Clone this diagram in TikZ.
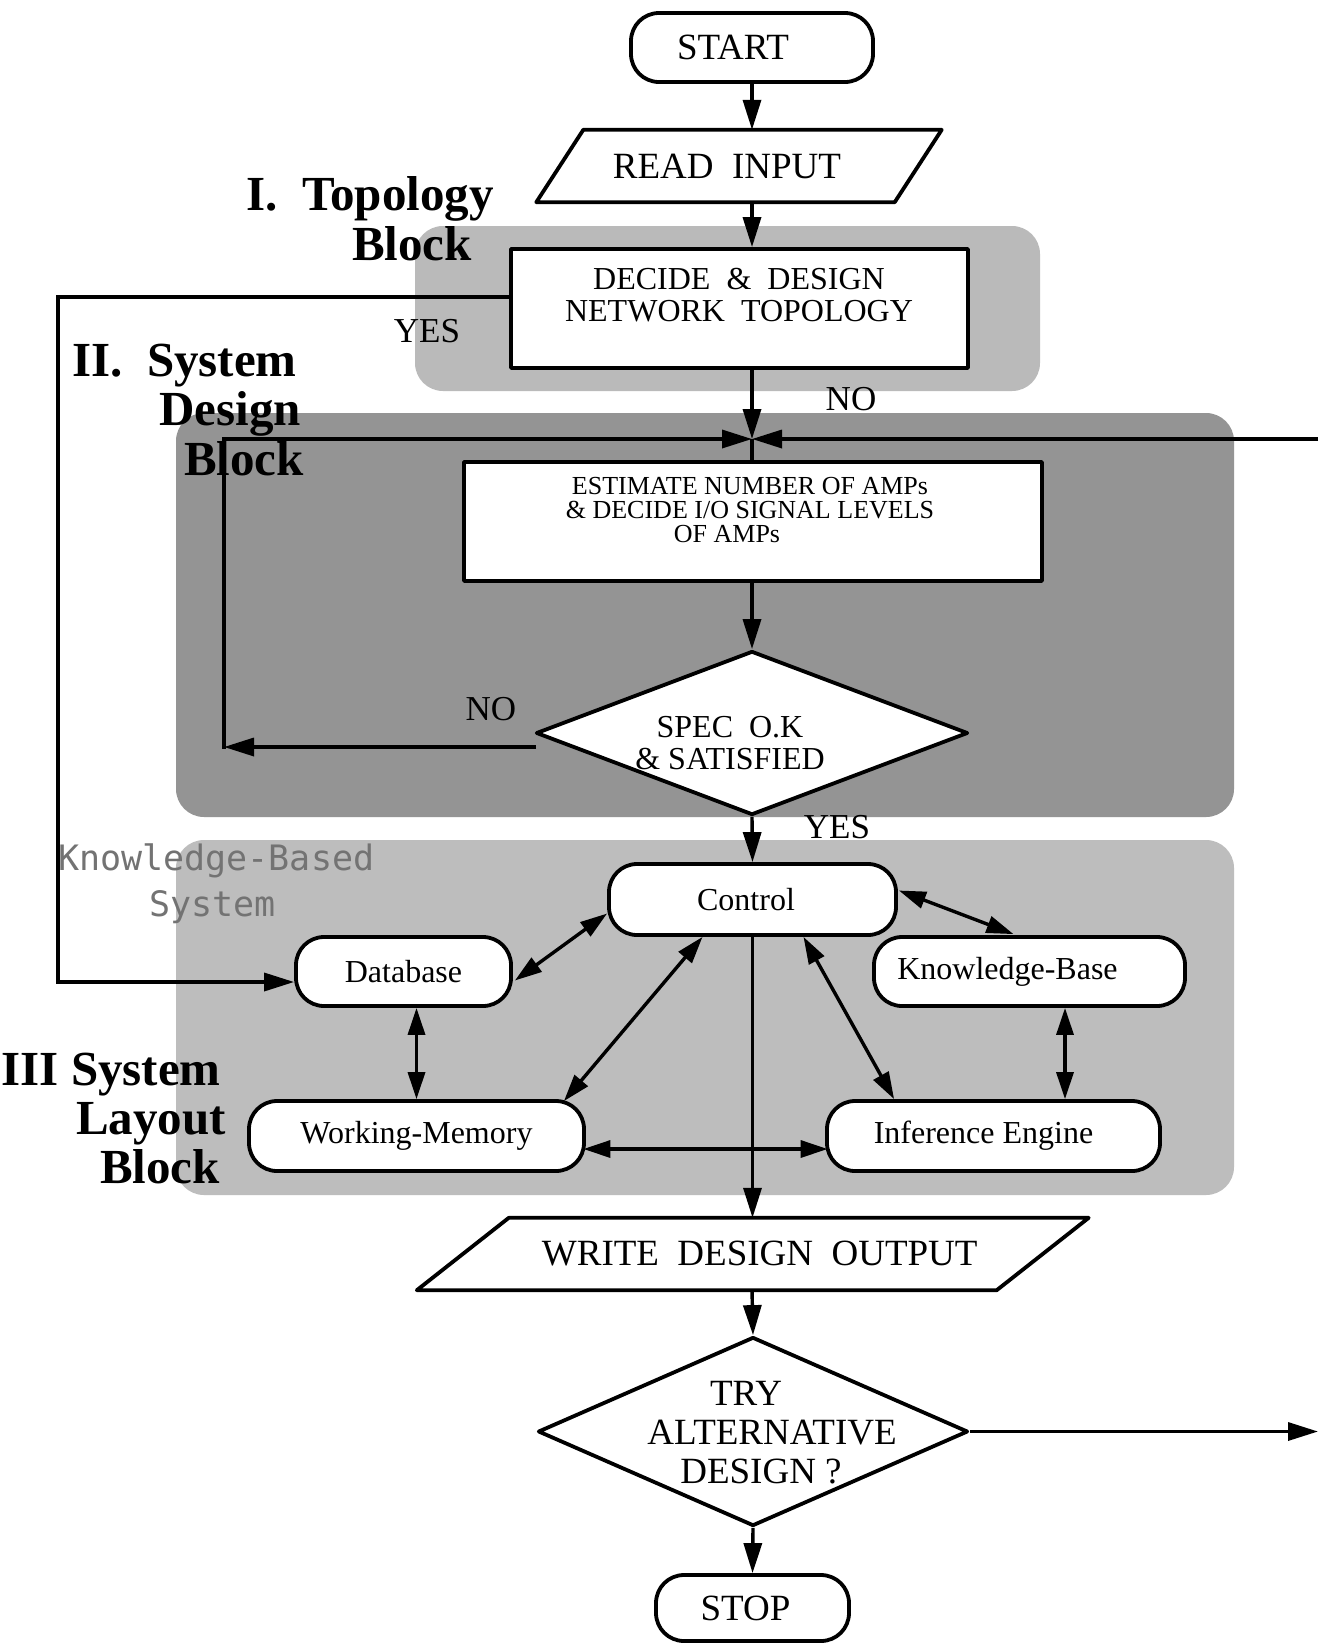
\documentclass[tikz,border=0pt]{standalone}
\usepackage{fontspec}
\setmainfont{Liberation Serif}
\newfontfamily\pixelfont{DejaVu Sans Mono}
\usetikzlibrary{arrows.meta,calc,shapes.geometric}
\newcommand\sizeL{\fontsize{37}{39}\selectfont}
\newcommand\sizeM{\fontsize{32}{32}\selectfont}
\newcommand\sizeS{\fontsize{26}{24}\selectfont}
\newcommand\sizeH{\bfseries\fontsize{49}{49}\selectfont}

\begin{document}
\begin{tikzpicture}[x=1pt,y=-1pt,
  conn/.style={line width=3.4pt},
  arr/.style={conn,-{Triangle[length=30pt,width=18pt]}},
  dbl/.style={conn,{Triangle[length=27pt,width=17pt]}-{Triangle[length=27pt,width=17pt]}},
  outline/.style={draw,line width=3.8pt,line join=round},
  boxnode/.style={outline,fill=white,inner sep=0pt},
  pill/.style={boxnode,rounded corners=28pt},
  txt/.style={inner sep=0pt,align=center},
  tag/.style={inner sep=0pt,font=\fontsize{35}{35}\selectfont},
  head/.style={inner sep=0pt,anchor=base east,font=\sizeH},
  region/.style={rounded corners=28pt},
  pixlabel/.style={inner sep=0pt,anchor=base west,text=black!55,font=\pixelfont\fontsize{35}{35}\selectfont},
]
\useasboundingbox (0,0) rectangle (1318,1647);
\fill[white] (0,0) rectangle (1318,1647);

% shaded blocks
\fill[black!27,region] (415,226) rectangle (1040,391);   % topology block
\fill[black!42,region] (176,413) rectangle (1234,817);   % system design block
\fill[black!26,region] (176,840) rectangle (1234,1195);  % system layout block

% block headings
\node[head] (h1a) at (494,210) {I.\ \ Topology};
\node[head] (h1b) at (472,260) {Block};
\node[head] (h2a) at (297,376) {II.\ \ System};
\node[head] (h2b) at (301,425) {Design};
\node[head] (h2c) at (304,475) {Block};
\node[head] (h3a) at (221,1085) {III System};
\node[head] (h3b) at (226,1134) {Layout};
\node[head] (h3c) at (220,1183) {Block};

\node[pixlabel] (kbs1) at (58,870) {Knowledge-Based};
\node[pixlabel] (kbs2) at (149,916) {System};

% main flow
\coordinate (axis) at (752,0);
\node[pill,minimum width=242pt,minimum height=69pt,font=\sizeL] (start) at (752,47.5) {START\hspace*{38pt}};

\node[txt,minimum width=358pt,minimum height=72pt,font=\sizeL] (read) at (739,166) {READ\ \ INPUT\hspace*{24pt}};
\draw[outline] ($(read.south west)+(-23.5,0)$) -- ($(read.north west)+(23.5,0)$)
  -- ($(read.north east)+(23.5,0)$) -- ($(read.south east)+(-23.5,0)$) -- cycle;

\node[boxnode,minimum width=457pt,minimum height=119pt] (decide) at (739.5,308.5) {};
\node[txt,font=\sizeM] (decidetxt) at (739,295) {DECIDE\ \ \&\ \ DESIGN\\NETWORK\ \ TOPOLOGY};

\node[boxnode,minimum width=578pt,minimum height=119pt] (est) at (753,521.5) {};
\node[txt,font=\sizeS] (esttxt) at (750,510) {ESTIMATE NUMBER OF AMPs\\\& DECIDE I/O SIGNAL LEVELS\\OF AMPs\hspace*{46pt}};

\node[diamond,boxnode,minimum width=432pt,minimum height=164pt] (spec) at (752,733) {};
\node[txt,font=\sizeM] (spectxt) at (730,743.5) {SPEC\ \ O.K\\\& SATISFIED};

% knowledge-based system
\node[pill,minimum width=287pt,minimum height=71pt,font=\sizeM] (ctrl) at (752.5,899.5) {Control\hspace*{13pt}};
\node[pill,minimum width=215pt,minimum height=69pt,font=\sizeM] (db) at (403.5,971.5) {Database};
\node[pill,minimum width=311pt,minimum height=69pt,font=\sizeM] (kb) at (1029.5,971.5) {Knowledge-Base\hspace*{44pt}};
\node[pill,minimum width=335pt,minimum height=70pt,font=\sizeM] (wm) at (416.5,1136) {Working-Memory};
\node[pill,minimum width=333pt,minimum height=70pt,font=\sizeM] (ie) at (993.5,1136) {Inference Engine\hspace*{20pt}};

% output part
\node[txt,minimum width=579.5pt,minimum height=72pt,font=\sizeL] (write) at (752.75,1254) {\hspace*{14pt}WRITE\ \ DESIGN\ \ OUTPUT};
\draw[outline] ($(write.south west)+(-46,0)$) -- ($(write.north west)+(46,0)$)
  -- ($(write.north east)+(46,0)$) -- ($(write.south east)+(-46,0)$) -- cycle;

\node[diamond,boxnode,minimum width=430pt,minimum height=189pt] (try) at (753,1431.5) {};
\node[txt,font=\sizeL] (trytxt) at (772,1433) {TRY\hspace*{52pt}\\ALTERNATIVE\\DESIGN ?\hspace*{22pt}};

\node[pill,minimum width=193pt,minimum height=66pt,font=\sizeL] (stop) at (752.5,1608) {STOP\hspace*{14pt}};

% branch labels
\node[tag] (yes1) at (427,331) {YES};
\node[tag] (no1) at (851,399) {NO};
\node[tag] (no2) at (491,709) {NO};
\node[tag] (yes2) at (837,827) {YES};

% connectors of the main flow
\coordinate (jn) at (752,439);
\coordinate (loopL) at (224,439);
\coordinate (loopB) at (224,747);
\coordinate (edgeR) at (1318,439);
\coordinate (edgeT) at (1318,1431.5);
\coordinate (yesA) at (58,297);
\coordinate (yesB) at (58,982);

\draw[arr] (start.south) -- (axis |- read.north);
\draw[arr] (axis |- read.south) -- (axis |- decide.north);
\draw[arr] (axis |- decide.south) -- (jn);
\draw[conn] (jn) -- (axis |- est.north);
\draw[arr] (loopL) -- (jn);
\draw[arr] (edgeR) -- (jn);
\draw[arr] (axis |- est.south) -- (spec.north);
\draw[arr] ($(spec.west)+(2,14)$) -- (loopB);
\draw[conn,line cap=rect] (loopB) -- (loopL);
\draw[arr] ($(decide.west)+(0,-11.5)$) -- (yesA) -- (yesB) -- (yesB -| db.west);
\draw[arr] (spec.south) -- (ctrl.north);
\draw[arr] (ctrl.south) -- (ctrl.south |- write.north);
\draw[arr] (axis |- write.south) -- (try.north);
\draw[arr] (try.east) -- (edgeT);
\draw[arr] (try.south) -- (stop.north);

% connectors inside the knowledge-based system
\coordinate (kbx) at ($(kb.south)+(35.5,0)$);
\coordinate (wmx) at ($(wm.east)+(-2.5,13)$);
\coordinate (iex) at ($(ie.west)+(2.5,13)$);
\draw[dbl] ($(ctrl.west)+(0,14)$) -- ($(db.east)+(2,9)$);
\draw[dbl] ($(ctrl.east)+(1,-9)$) -- ($(kb.north)+(-16,-1)$);
\draw[dbl] ($(ctrl.south)+(-50,0)$) -- ($(wm.north east)+(-22,2)$);
\draw[dbl] ($(ctrl.south)+(51,0)$) -- ($(ie.north west)+(69,0)$);
\draw[dbl] (wm.north |- db.south) -- (wm.north);
\draw[dbl] (kbx) -- (kbx |- ie.north);
\draw[dbl] (wmx) -- (iex);
\end{tikzpicture}
\end{document}
